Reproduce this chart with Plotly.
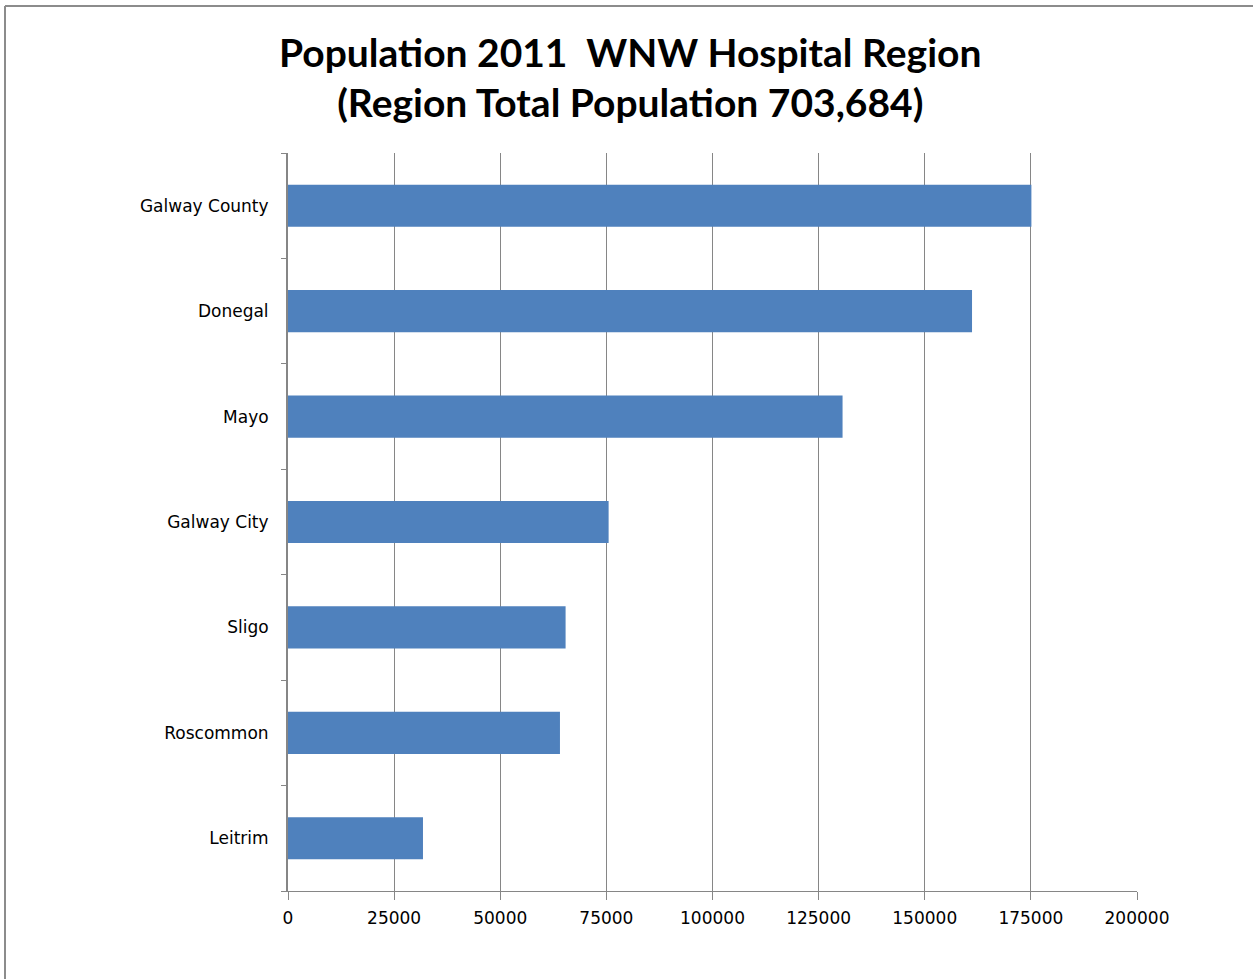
import plotly.graph_objects as go

regions = ["Galway County", "Donegal", "Mayo", "Galway City", "Sligo", "Roscommon", "Leitrim"]
population = [175124, 161137, 130638, 75529, 65393, 64065, 31798]
x_ticks = [0, 25000, 50000, 75000, 100000, 125000, 150000, 175000, 200000]

W, H = 1253, 979
L, R, T, B = 288, 116, 153, 88
pw, ph = W - L - R, H - T - B

fig = go.Figure(go.Bar(
    y=regions[::-1], x=population[::-1], orientation="h",
    marker=dict(color="#4F81BD", line=dict(width=0)),
))

fig.update_layout(
    width=W, height=H,
    margin=dict(l=L, r=R, t=T, b=B, pad=0),
    paper_bgcolor="white", plot_bgcolor="white",
    bargap=0.6,
    showlegend=False,
    title=dict(
        text="Population 2011  WNW Hospital Region<br>(Region Total Population 703,684)",
        x=0.503, xanchor="center", y=0.932, yanchor="top",
        font=dict(family="Lato", size=39, color="black", weight="bold"),
    ),
    font=dict(family="DejaVu Sans", size=17, color="black"),
)

fig.update_xaxes(
    range=[0, 200000], tickvals=x_ticks, ticktext=[str(v) for v in x_ticks],
    showgrid=True, gridcolor="#868686", gridwidth=1,
    showline=True, linecolor="#868686", linewidth=1,
    ticks="outside", ticklen=8, tickcolor="#868686",
    zeroline=False, tickfont=dict(size=17), ticklabelstandoff=4,
)
fig.update_yaxes(
    showgrid=False, showline=True, linecolor="#868686", linewidth=2,
    ticks="outside", ticklen=5, tickcolor="#868686", tickson="boundaries",
    ticklabelstandoff=14, tickfont=dict(size=17),
)

# outer chart border (left and top visible)
fig.add_shape(type="line", xref="paper", yref="paper",
              x0=(5 - L) / pw, x1=(5 - L) / pw, y0=1 + (T - 6) / ph, y1=-(B + 10) / ph,
              line=dict(color="#8C8C8C", width=2))
fig.add_shape(type="line", xref="paper", yref="paper",
              x0=(5 - L) / pw, x1=(W + 10 - L) / pw, y0=1 + (T - 6) / ph, y1=1 + (T - 6) / ph,
              line=dict(color="#8C8C8C", width=2))

fig.write_html("out.html")
